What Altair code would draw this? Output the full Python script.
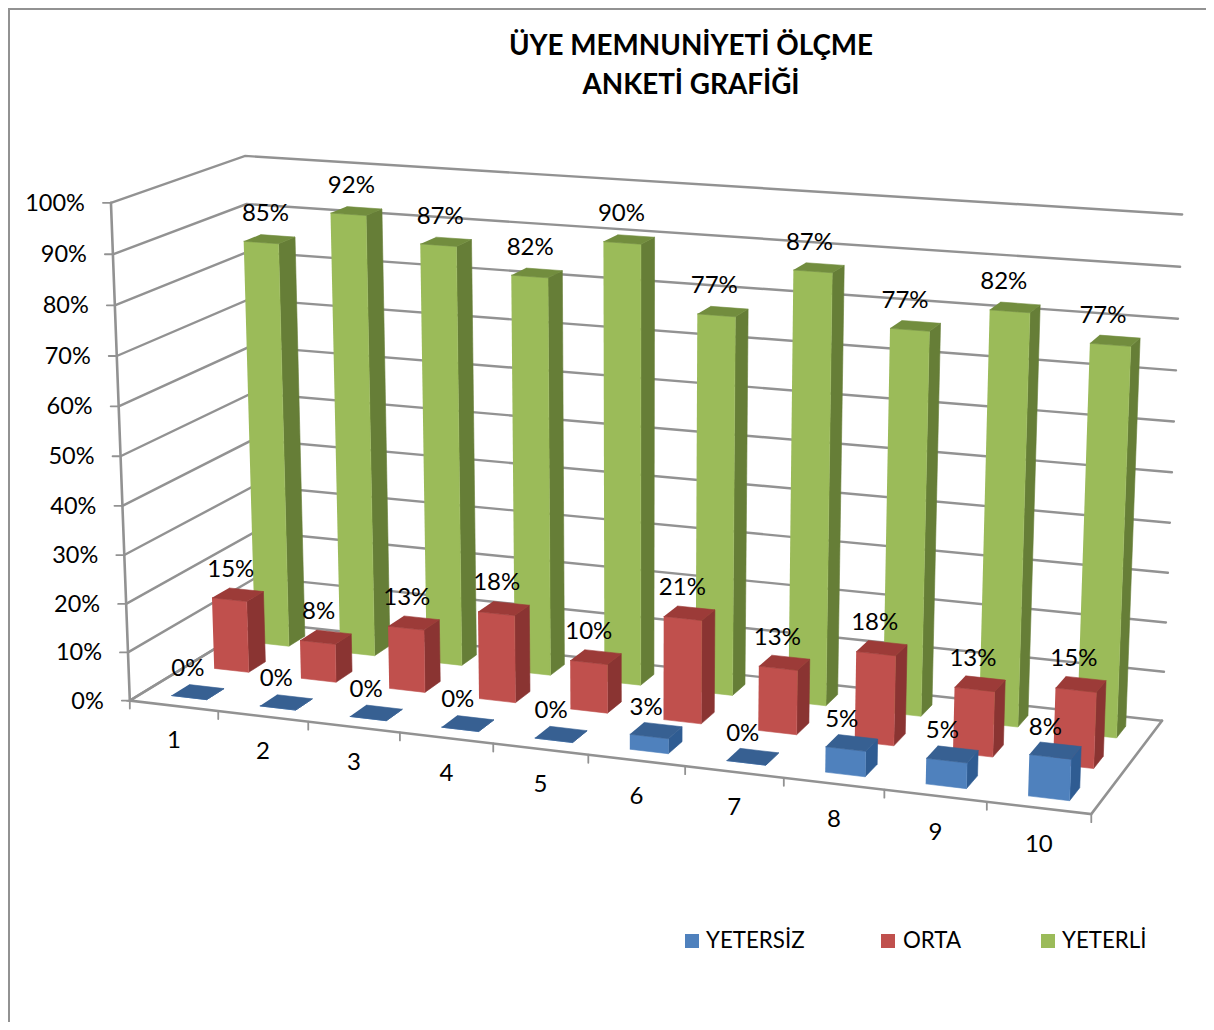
import altair as alt
import numpy as np
import pandas as pd

categories = ["1", "2", "3", "4", "5", "6", "7", "8", "9", "10"]
yetersiz = [0, 0, 0, 0, 0, 3, 0, 5, 5, 8]
orta = [15, 8, 13, 18, 10, 21, 13, 18, 13, 15]
yeterli = [85, 92, 87, 82, 90, 77, 87, 77, 82, 77]
y_ticks = [0, 10, 20, 30, 40, 50, 60, 70, 80, 90, 100]
legend_names = ["YETERSİZ", "ORTA", "YETERLİ"]
title_lines = ["ÜYE MEMNUNİYETİ ÖLÇME", "ANKETİ GRAFİĞİ"]

# series: values, depth row, (front, side, top) colours, label offset, label drift per category, sideways nudge
SERIES = [
    (yeterli, 2, ("#9BBB59", "#667E37", "#728D3E"), (-4, -25), -0.9, 0.0),
    (orta, 1, ("#C0504D", "#8A3432", "#9C3B38"), (-7, -25), 0.0, 0.001),
    (yetersiz, 0, ("#4F81BD", "#2F5C92", "#376092"), (-10, -23), 0.0, 0.002),
]
FONT = "Lato"
GRAY = "#929292"
W, H = 1198, 1014
M = 8

# camera calibration: (category fraction, depth fraction, height fraction) -> page pixel
CAL = [
    (0, 0, 1, 110, 203), (0, 0, .9, 113, 254), (0, 0, .8, 115, 306), (0, 0, .7, 117, 356),
    (0, 0, .6, 119, 407), (0, 0, .2, 127, 603), (0, 0, .1, 128, 652), (0, 0, 0, 130, 700),
    (0, 1, 1, 245, 155), (0, 1, .9, 247, 203), (0, 1, 0, 258, 625),
    (1, 1, 1, 1182, 215), (1, 1, .9, 1180, 267), (1, 1, .8, 1178, 319), (1, 1, .7, 1176, 371),
    (1, 1, .1, 1164, 671), (1, 1, 0, 1162, 719), (1, 0, 0, 1093, 816),
    (.1, 0, 0, 218, 711), (.2, 0, 0, 308, 722), (.6, 0, 0, 684, 766),
    (.7, 0, 0, 783, 777), (.8, 0, 0, 884, 788), (.9, 0, 0, 987, 803),
]
rows = []
for u, v, w, px, py in CAL:
    px, py = px / 1000, py / 1000
    rows.append([u, v, w, 1, 0, 0, 0, 0, -px * u, -px * v, -px * w, -px])
    rows.append([0, 0, 0, 0, u, v, w, 1, -py * u, -py * v, -py * w, -py])
P = np.linalg.svd(np.array(rows))[2][-1].reshape(3, 4)


def proj(u, v, w):
    h = P @ np.array([u, v, w, 1.0])
    return h[0] / h[2] * 1000 - M, h[1] / h[2] * 1000 - M


def polys(items):
    out = []
    for pid, fill, pts in items:
        for i, (x, y) in enumerate(pts):
            out.append({"id": pid, "ord": i, "x": float(x), "y": float(y), "c": fill})
    return pd.DataFrame(out)


xs = alt.Scale(domain=[0, W], nice=False, zero=False)
ys = alt.Scale(domain=[H, 0], nice=False, zero=False)
X = alt.X("x:Q", scale=xs, axis=None)
Y = alt.Y("y:Q", scale=ys, axis=None)


def line_layer(items, width=2.0):
    return alt.Chart(polys(items)).mark_line(
        strokeWidth=width, color=GRAY, strokeCap="round", clip=False
    ).encode(x=X, y=Y, detail="id:N", order="ord:Q")


def text_layer(df, size, align="center", bold=False):
    return alt.Chart(df).mark_text(
        font=FONT, fontSize=size, align=align, baseline="middle", color="#000000",
        fontWeight="bold" if bold else "normal",
    ).encode(x=X, y=Y, text="t:N")


# frame (top and left edge only)
frame = [("frame", GRAY, [(1, H), (1, 1), (W, 1)])]

# gridlines over left and back walls
grid = []
for t in y_ticks:
    w = t / 100
    grid.append((f"g{t}", GRAY, [proj(0, 0, w), proj(0, 1, w), proj(1, 1, w)]))
# floor and axes
axes = [
    ("floor", GRAY, [proj(0, 1, 0), proj(0, 0, 0), proj(1, 0, 0), proj(1, 1, 0)]),
    ("yaxis", GRAY, [proj(0, 0, 0), proj(0, 0, 1)]),
]
ticks = []
for i in range(len(categories) + 1):
    x0, y0 = proj(i / 10, 0, 0)
    ticks.append((f"xt{i}", GRAY, [(x0, y0), (x0, y0 + 8)]))
for t in y_ticks:
    x0, y0 = proj(0, 0, t / 100)
    ticks.append((f"yt{t}", GRAY, [(x0, y0), (x0 - 8, y0)]))

layers = [
    line_layer(frame, 2.0),
    line_layer(grid, 2.4),
    line_layer(axes, 2.6),
    line_layer(ticks, 1.8),
]

labels = []
for vals, row, (cf, cs, ct), (dx, dy), drift, nudge in SERIES:
    faces = []
    for i, val in enumerate(vals):
        u0, u1 = (i + 0.3) / 10 + nudge, (i + 0.7) / 10 + nudge
        v0, v1 = (row + 0.3) / 3, (row + 0.7) / 3
        w = val / 100
        faces.append((f"{row}-{i}-side", cs, [proj(u1, v0, 0), proj(u1, v1, 0), proj(u1, v1, w), proj(u1, v0, w)]))
        faces.append((f"{row}-{i}-front", cf, [proj(u0, v0, 0), proj(u1, v0, 0), proj(u1, v0, w), proj(u0, v0, w)]))
        faces.append((f"{row}-{i}-top", ct, [proj(u0, v0, w), proj(u1, v0, w), proj(u1, v1, w), proj(u0, v1, w)]))
        cx, cy = proj((u0 + u1) / 2, (v0 + v1) / 2, w)
        labels.append({"x": cx + dx + drift * i, "y": cy + dy, "t": f"{val}%"})
    layers.append(
        alt.Chart(polys(faces)).mark_line(strokeWidth=0.6).encode(
            x=X, y=Y, detail="id:N", order="ord:Q",
            fill=alt.Fill("c:N", scale=None), stroke=alt.Stroke("c:N", scale=None),
        )
    )

layers.append(text_layer(pd.DataFrame(labels), 24))

cat_df = []
for i, c in enumerate(categories):
    x0, y0 = proj((i + 0.5) / 10, 0, 0)
    cat_df.append({"x": x0, "y": y0 + 35 + 0.25 * i, "t": c})
layers.append(text_layer(pd.DataFrame(cat_df), 24))

ytl = []
for t in y_ticks:
    x0, y0 = proj(0, 0, t / 100)
    ytl.append({"x": x0 - 26, "y": y0 + 1, "t": f"{t}%"})
layers.append(text_layer(pd.DataFrame(ytl), 23.5, align="right"))

title_df = pd.DataFrame(
    [{"x": 691 - M, "y": y - M, "t": s} for s, y in zip(title_lines, [47, 86])]
)
layers.append(text_layer(title_df, 27.8, bold=True))

leg_x = [692, 888, 1048]
leg_tx = [706, 903, 1062]
leg_col = [SERIES[2][2][0], SERIES[1][2][0], SERIES[0][2][0]]
leg_sq = pd.DataFrame(
    [{"x": x - M, "y": 941 - M, "c": c} for x, c in zip(leg_x, leg_col)]
)
layers.append(
    alt.Chart(leg_sq).mark_square(size=196, opacity=1).encode(
        x=X, y=Y, fill=alt.Fill("c:N", scale=None), stroke=alt.value(None)
    )
)
leg_t = pd.DataFrame(
    [{"x": x - M, "y": 941 - M, "t": s} for x, s in zip(leg_tx, legend_names)]
)
layers.append(text_layer(leg_t, 22.3, align="left"))

chart = (
    alt.layer(*layers)
    .properties(width=W, height=H, padding=0, autosize=alt.AutoSizeParams(type="none"), background="white")
    .configure_view(stroke=None)
)
chart.save("out.html", embed_options={"renderer": "svg", "actions": False})
